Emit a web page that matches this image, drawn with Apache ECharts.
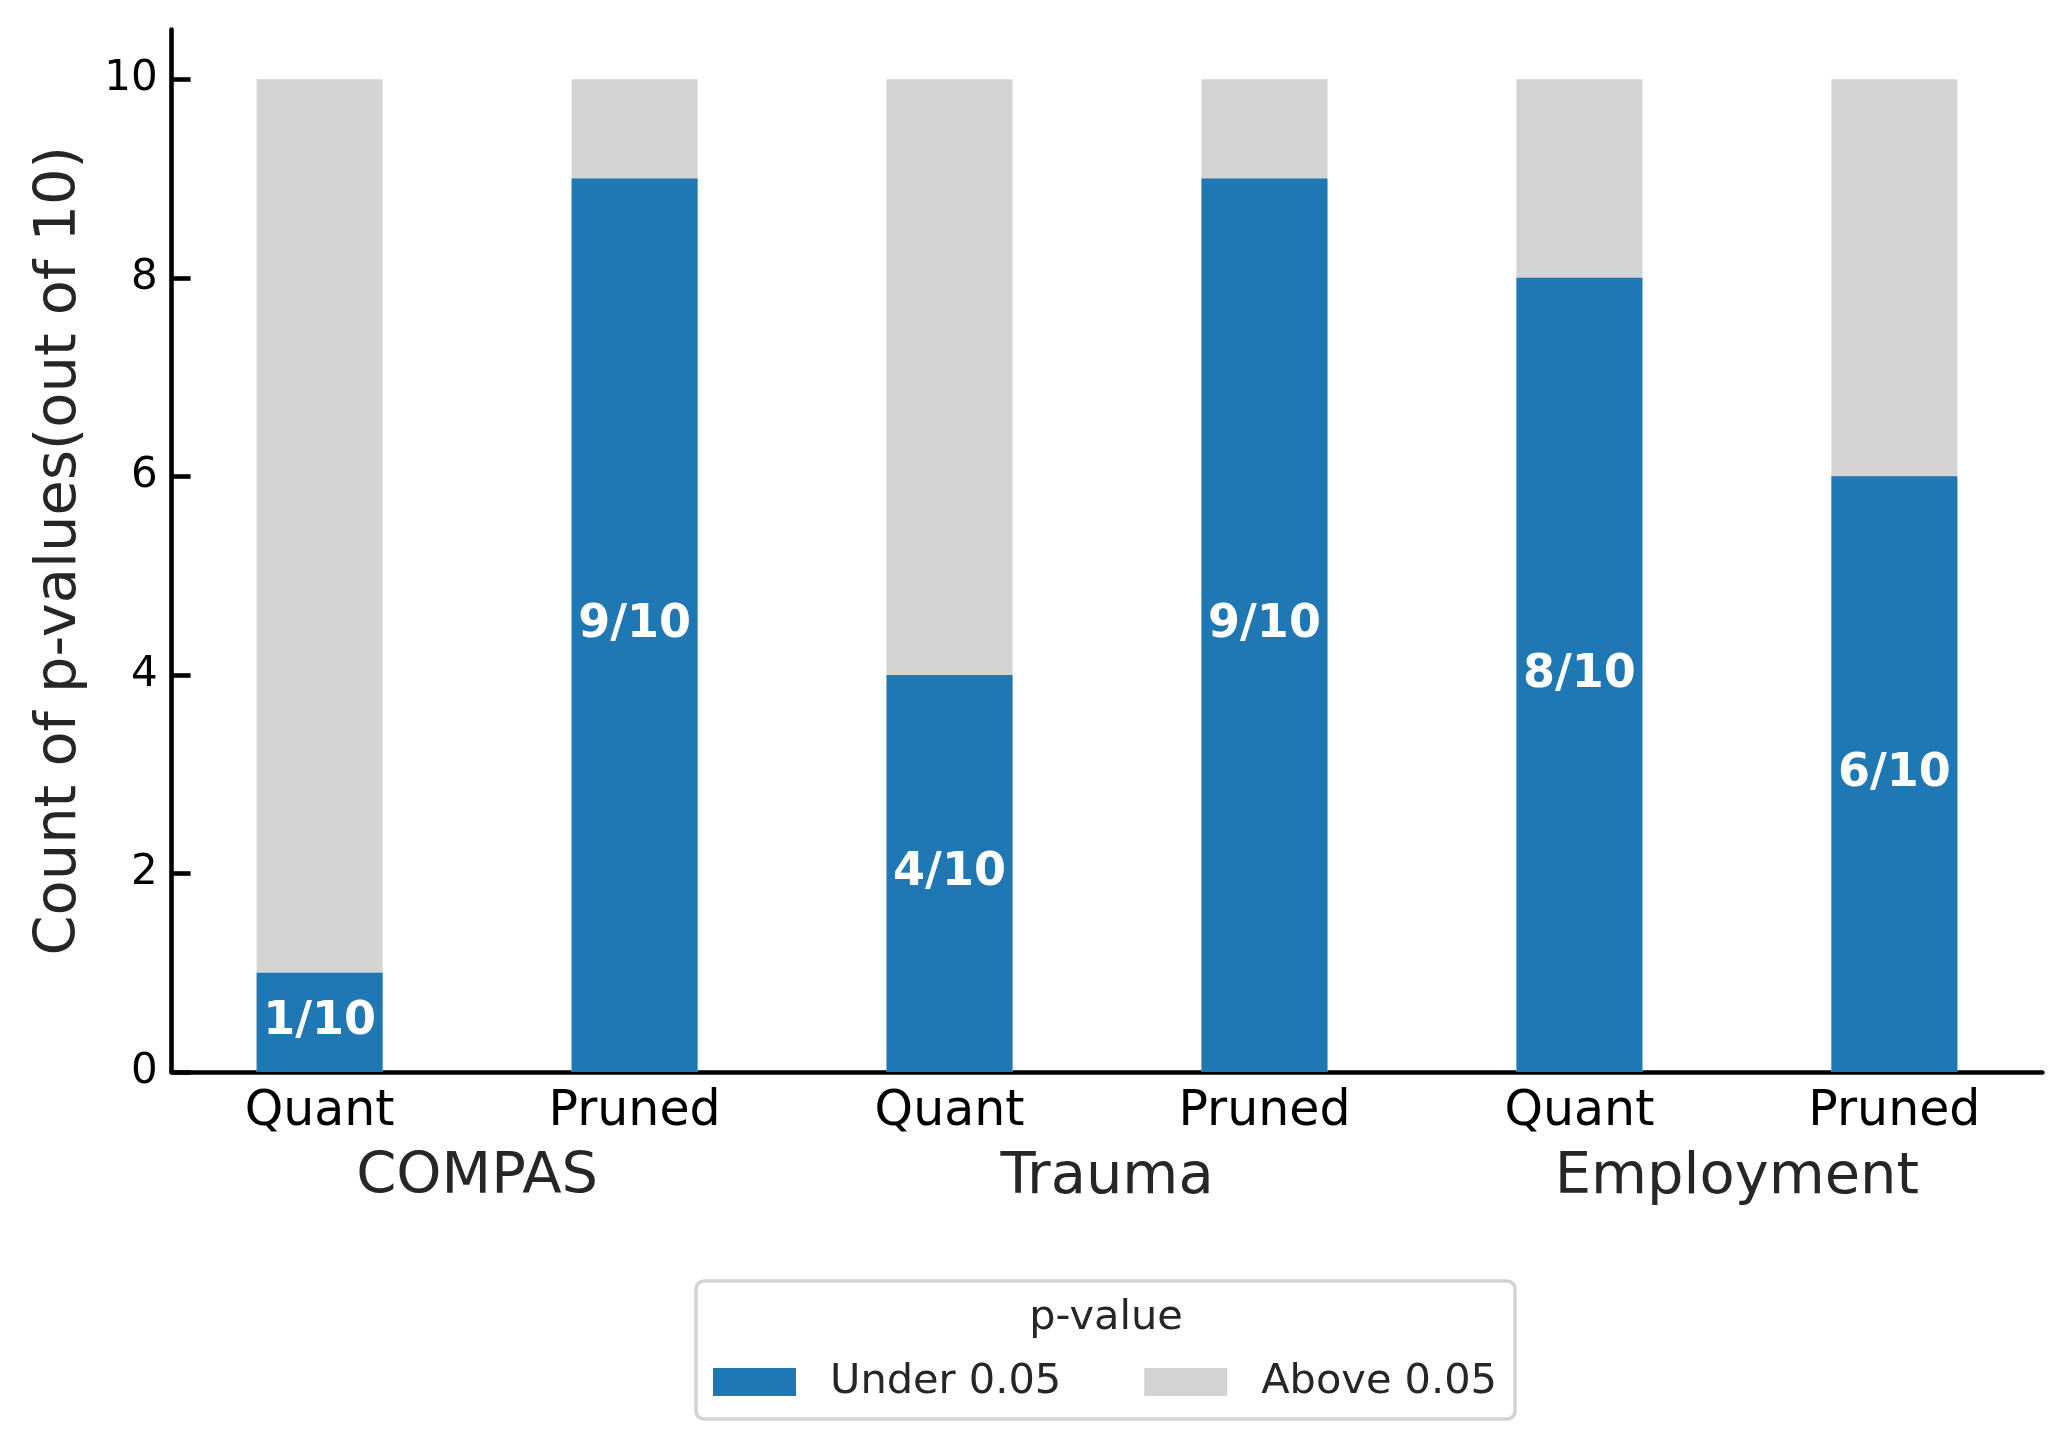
<!DOCTYPE html>
<html><head><meta charset="utf-8">
<script src="https://cdn.jsdelivr.net/npm/echarts@6/dist/echarts.min.js"></script>
<style>html,body{margin:0;padding:0;background:#fff}#c{width:2070px;height:1449px}</style>
</head><body><div id="c"></div>
<script>
const methods = ['Quant', 'Pruned', 'Quant', 'Pruned', 'Quant', 'Pruned'];
const groups = ['COMPAS', 'Trauma', 'Employment'];
const underCounts = [1, 9, 4, 9, 8, 6];
const aboveCounts = [9, 1, 6, 1, 2, 4];
const total = 10;
const yTicks = [0, 2, 4, 6, 8, 10];
const seriesNames = ['Under 0.05', 'Above 0.05'];
const legendTitle = 'p-value';
const yTitle = 'Count of p-values(out of 10)';

const xPositions = methods.map((_, i) => i);
const groupPositions = groups.map((_, g) => 2 * g + 0.5);
const FONT = 'DejaVu Sans';
const AXIS_W = 4.6;

const chart = echarts.init(document.getElementById('c'), null, {renderer: 'canvas'});
const option = {
  animation: false,
  backgroundColor: '#fff',
  textStyle: {fontFamily: FONT},
  grid: {left: 171.6, right: 27.6, top: 29.6, bottom: 377, containLabel: false},
  xAxis: [{
    type: 'value', min: -0.47, max: 5.47,
    axisLine: {show: true, onZero: false, lineStyle: {color: '#000', width: AXIS_W}},
    axisTick: {show: false},
    splitLine: {show: false},
    axisLabel: {customValues: xPositions, formatter: v => methods[Math.round(v)],
      fontSize: 49, color: '#000', margin: 16, fontFamily: FONT}
  }, {
    type: 'value', min: -0.47, max: 5.47, position: 'bottom',
    axisLine: {show: false, onZero: false}, axisTick: {show: false}, splitLine: {show: false},
    axisLabel: {customValues: groupPositions, formatter: v => groups[Math.round((v - 0.5) / 2)],
      fontSize: 57.5, color: '#262626', margin: 77, fontFamily: FONT}
  }],
  yAxis: {
    type: 'value', min: 0, max: 10.5,
    axisLine: {show: true, onZero: false, lineStyle: {color: '#000', width: AXIS_W}},
    axisTick: {show: true, inside: true, length: 19, customValues: yTicks, lineStyle: {color: '#000', width: AXIS_W}},
    axisLabel: {customValues: yTicks, fontSize: 42, color: '#000', margin: 14, fontFamily: FONT},
    splitLine: {show: false},
    name: yTitle, nameLocation: 'middle', nameGap: 83,
    nameTextStyle: {fontSize: 57.5, color: '#262626', fontFamily: FONT}
  },
  legend: {
    data: seriesNames,
    left: 696, top: 1281,
    orient: 'horizontal',
    padding: [77, 18, 13, 17],
    itemGap: 83, itemWidth: 83, itemHeight: 28,
    icon: 'rect',
    borderColor: '#d3d3d3', borderWidth: 3.5, borderRadius: 8, backgroundColor: '#fff',
    textStyle: {fontSize: 41.5, color: '#262626', fontFamily: FONT, padding: [0, 0, 0, 29], lineHeight: 48}
  },
  graphic: [{
    type: 'text', x: 1106, y: 1318, z: 1000,
    style: {text: legendTitle, fontSize: 41.5, fill: '#262626', fontFamily: FONT,
      textAlign: 'center', textVerticalAlign: 'middle', align: 'center', verticalAlign: 'middle'}
  }],
  series: [{
    name: seriesNames[1], type: 'bar', barWidth: 126, barGap: '-100%', z: 1,
    itemStyle: {color: '#d3d3d3'},
    data: aboveCounts.map((v, i) => [xPositions[i], underCounts[i] + v])
  }, {
    name: seriesNames[0], type: 'bar', barWidth: 126, barGap: '-100%', z: 3,
    itemStyle: {color: '#1f77b4'},
    label: {show: true, position: 'inside', formatter: p => p.data[1] + '/' + total,
      color: '#fff', fontWeight: 'bold', fontSize: 46, fontFamily: FONT},
    data: underCounts.map((v, i) => [xPositions[i], v])
  }]
};
chart.setOption(option);
</script></body></html>
